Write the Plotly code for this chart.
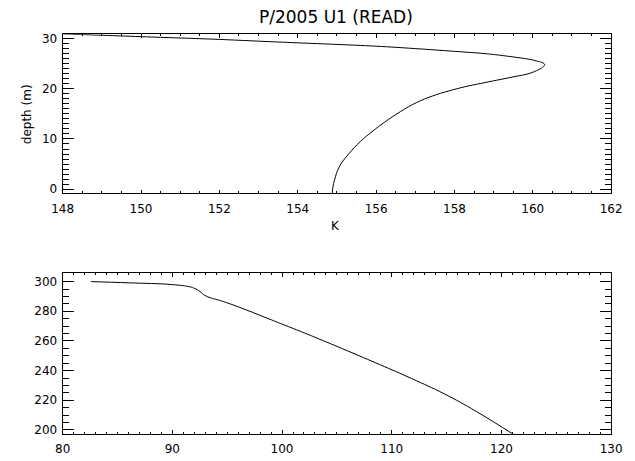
import plotly.graph_objects as go

# Top panel: temperature profile (K) vs depth (m)
top_temp_K = [148.0, 149.0, 150.0, 151.0, 152.0, 153.0, 154.0, 155.0, 156.0, 157.0,
              158.0, 158.8, 159.41, 159.9, 160.1, 160.23, 160.29, 160.3, 160.27, 160.15,
              159.9, 159.5, 159.08, 158.67, 158.26, 157.85, 157.44, 157.03, 156.62,
              156.21, 155.92, 155.6, 155.31, 155.06, 154.94, 154.9, 154.88]
top_depth_m = [30.95, 30.68, 30.4, 30.13, 29.85, 29.5, 29.17, 28.85, 28.5, 28.02,
               27.47, 27.0, 26.45, 25.9, 25.55, 25.27, 25.0, 24.8, 24.4, 23.83,
               23.04, 22.38, 21.72, 21.07, 20.4, 19.56, 18.57, 17.25, 15.45,
               13.3, 11.6, 9.5, 7.1, 4.45, 1.83, 0.5, -0.9]

# Bottom panel
bot_x = [82.6, 86.0, 90.0, 91.6, 92.0, 92.3, 92.6, 92.9, 93.5, 94.1, 95.8, 98.8,
         100.2, 101.7, 103.0, 105.95, 108.9, 111.8, 114.8, 117.7, 121.1]
bot_y = [300.0, 299.2, 298.0, 296.5, 295.5, 294.5, 292.8, 291.0, 289.0, 287.8, 283.6, 274.9,
         270.8, 266.4, 262.5, 253.4, 244.1, 234.7, 224.3, 212.5, 197.0]

title_text = "P/2005 U1 (READ)"
x_title_top = "K"
y_title_top = "depth (m)"

FONT = "DejaVu Sans"
W, H = 635, 461

fig = go.Figure()
fig.add_trace(go.Scatter(x=top_temp_K, y=top_depth_m, mode="lines",
                         line=dict(color="black", width=1, shape="spline", smoothing=1.2),
                         xaxis="x", yaxis="y", showlegend=False))
fig.add_trace(go.Scatter(x=bot_x, y=bot_y, mode="lines",
                         line=dict(color="black", width=1, shape="spline", smoothing=1.2),
                         xaxis="x2", yaxis="y2", showlegend=False))

x0, x1 = 53.5 / W, 621.7 / W
top_dom = [1 - 193.5 / H, 1 - 32.5 / H]
bot_dom = [1 - 436.7 / H, 1 - 274.3 / H]

def ax(rng, dtick, mdtick, dom, anchor, ticklen, mticklen, standoff):
    return dict(range=rng, dtick=dtick, tick0=0, domain=dom, anchor=anchor,
                showline=True, linecolor="black", linewidth=1, mirror="ticks",
                ticks="inside", ticklen=ticklen, tickcolor="black", tickwidth=1,
                showgrid=False, zeroline=False, ticklabelstandoff=standoff,
                minor=dict(dtick=mdtick, ticks="inside", ticklen=mticklen,
                           tickcolor="black", tickwidth=1, showgrid=False),
                tickfont=dict(family=FONT, size=12, color="black"))

fig.update_layout(
    width=W, height=H, margin=dict(l=0, r=0, t=0, b=0),
    paper_bgcolor="white", plot_bgcolor="white",
    xaxis=ax([148, 162], 2, 0.5, [x0, x1], "y", 3.5, 2, 4),
    yaxis=ax([-0.85, 30.9], 10, 1, top_dom, "x", 11, 6, 2),
    xaxis2=ax([80, 130], 10, 1, [x0, x1], "y2", 3.5, 2, 4),
    yaxis2=ax([197.3, 305.6], 20, 5, bot_dom, "x2", 11, 6, 2),
    annotations=[
        dict(text=title_text, x=337 / W, y=1 - 15 / H, xref="paper", yref="paper",
             showarrow=False, font=dict(family=FONT, size=17, color="black"),
             xanchor="center", yanchor="middle"),
        dict(text=x_title_top, x=336 / W, y=1 - 226 / H, xref="paper", yref="paper",
             showarrow=False, font=dict(family=FONT, size=12, color="black"),
             xanchor="center", yanchor="middle"),
        dict(text=y_title_top, x=16 / W, y=1 - 113 / H, xref="paper", yref="paper",
             showarrow=False, textangle=-90, font=dict(family=FONT, size=12, color="black"),
             xanchor="center", yanchor="middle"),
    ],
)

fig.write_html("out.html")
